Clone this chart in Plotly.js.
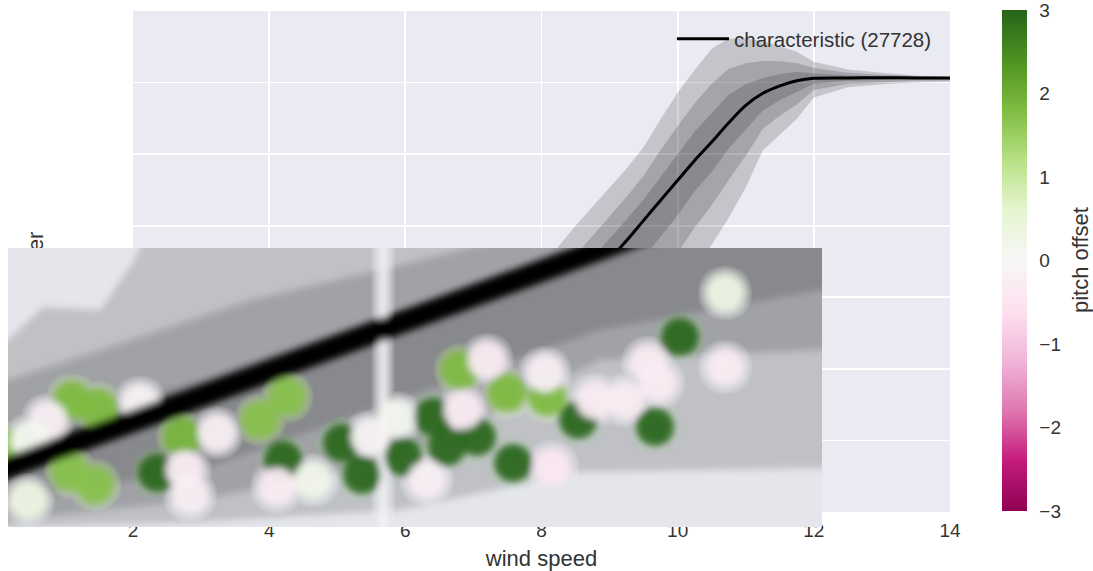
<!DOCTYPE html>
<html>
<head>
<meta charset="utf-8">
<script src="https://cdn.plot.ly/plotly-3.0.1.min.js"></script>
<style>
  html, body { margin: 0; padding: 0; background: #ffffff; }
  #wrap { position: relative; width: 1093px; height: 571px; }
  #main, #inset { position: absolute; left: 0; top: 0; width: 1093px; height: 571px; }
  #inset { pointer-events: none; }
  #inset .cartesianlayer .overplot > g { filter: url(#insetBlur); }
</style>
</head>
<body>
<svg width="0" height="0" style="position:absolute;left:0;top:0">
  <defs>
    <filter id="insetBlur" x="-5%" y="-5%" width="110%" height="110%">
      <feGaussianBlur stdDeviation="3.6"/>
    </filter>
  </defs>
</svg>
<div id="wrap"><div id="main"></div><div id="inset"></div></div>
<script>
// ---------------- main chart data ----------------
const windSpeed = [2, 3, 4, 5, 6, 7, 7.5, 8, 8.5, 9, 9.25, 9.5, 9.75, 10, 10.25, 10.5, 10.75, 11, 11.25, 11.5, 11.75, 12, 12.5, 13, 13.5, 14];
const characteristic = [0, 0, 20, 75, 180, 350, 470, 620, 800, 1010, 1117, 1230, 1342, 1454, 1565, 1668, 1775, 1872, 1940, 1982, 2010, 2024, 2026, 2027, 2026, 2026];
const outerUpper = [20, 90, 200, 330, 480, 690, 820, 970, 1200, 1410, 1520, 1640, 1797, 1943, 2071, 2189, 2247, 2247, 2233, 2203, 2172, 2116, 2073, 2055, 2040, 2032];
const midUpper   = [12, 56, 132, 233, 366, 561, 687, 827, 1034, 1251, 1362, 1479, 1623, 1757, 1884, 1994, 2077, 2108, 2121, 2119, 2110, 2081, 2055, 2044, 2035, 2030];
const darkUpper  = [6, 27, 74, 151, 270, 452, 575, 720, 913, 1126, 1236, 1347, 1476, 1601, 1727, 1829, 1933, 1990, 2026, 2048, 2059, 2052, 2040, 2035, 2030, 2028];
const darkLower  = [0, 0, 15, 58, 141, 275, 371, 494, 644, 821, 920, 1022, 1138, 1258, 1392, 1500, 1632, 1740, 1842, 1901, 1946, 1993, 2010, 2016, 2018, 2019];
const midLower   = [0, 0, 11, 41, 99, 195, 265, 360, 478, 619, 710, 806, 924, 1049, 1190, 1314, 1455, 1591, 1741, 1814, 1878, 1958, 1994, 2004, 2010, 2012];
const outerLower = [0, 0, 5, 20, 50, 100, 140, 200, 280, 380, 460, 550, 670, 800, 952, 1093, 1244, 1414, 1620, 1711, 1797, 1917, 1974, 1990, 2000, 2004];
const xTicks = [2, 4, 6, 8, 10, 12, 14];
const legendLabel = 'characteristic (27728)';

// ---------------- inset (zoomed view) data ----------------
const insetLineWs = [2.9, 3.2, 3.4, 3.6, 3.8, 4.0];
const insetLinePower = [16, 57.7, 85.4, 113, 140.7, 168];
const insetGridWs = [3.5, 3.5];
const insetGridPower = [-20, 160];
const insOuterUpWs = [2.9, 3.0, 3.047, 3.123, 3.167, 3.19, 3.3, 4.2];
const insOuterUpP  = [90, 93.5, 110, 108.5, 132.5, 150, 170, 250];
const insMidUpWs = [2.9, 3.0, 3.123, 3.323, 3.523, 3.656, 3.8, 4.2];
const insMidUpP  = [68, 73.5, 88.5, 113.5, 131, 143.5, 160, 200];
const insDarkUpWs = [2.9, 3.0, 3.256, 3.523, 3.789, 4.2];
const insDarkUpP  = [40, 46, 73.5, 108.5, 138.5, 190];
const insDarkLoWs = [2.9, 3.0, 3.256, 3.523, 3.789, 4.0853, 4.2];
const insDarkLoP  = [8, 13.5, 28.5, 63.5, 98.5, 118.5, 122];
const insMidLoWs = [2.9, 3.0, 3.256, 3.523, 3.789, 4.0853, 4.2];
const insMidLoP  = [0, 3.5, 13.5, 33.5, 83.5, 88.5, 89];
const insOuterLoWs = [2.9, 3.0, 3.256, 3.523, 3.76, 4.0853, 4.2];
const insOuterLoP  = [-5, 0, 2.5, 8.5, 27.5, 29.5, 30];

const pitchWs = [3.0853, 3.12, 3.0827, 3.116, 3.0267, 3.0053, 3.0533, 3.0293, 3.176, 3.232, 3.1987, 3.236, 3.2427, 3.2787, 3.336, 3.372, 3.3667, 3.3587, 3.4453, 3.472, 3.5267, 3.4827, 3.5187, 3.5667, 3.5853, 3.6253, 3.6733, 3.6027, 3.6653, 3.7187, 3.6387, 3.6067, 3.5587, 3.4067, 3.76, 3.7827, 3.8227, 3.8533, 3.8667, 3.7253, 3.716, 3.8627, 3.896, 3.956, 3.956];
const pitchPower = [63.5, 59.5, 27.5, 21, 13.5, 39.5, 53.5, 43.5, 62, 45, 27, 28.5, 16, 47, 53.5, 65, 33.5, 20, 42, 26, 35, 45, 54.5, 55, 40, 45, 32, 78.5, 67, 65, 83.5, 58.5, 23.5, 23.5, 53.5, 63.5, 63.5, 82, 72, 30, 77, 50, 95, 117, 80];
const pitchOffset = [1.8, 1.8, 1.7, 1.7, 0.3, 1.6, -0.2, 0.1, -0.1, 1.9, 2.95, -0.3, -0.2, -0.2, 1.7, 1.7, 2.95, -0.3, 2.95, 2.95, 2.95, -0.1, 0.1, 2.95, 2.95, 2.95, 2.95, 1.8, 1.8, 1.8, -0.3, -0.3, -0.2, 0.2, 2.95, -0.3, -0.3, -0.3, -0.3, -0.4, -0.2, 2.95, 2.95, 0.3, -0.3];
const colorTicks = [-3, -2, -1, 0, 1, 2, 3];
const colorTitle = 'pitch offset';

const PiYG = [
  [0.0, '#8e0152'], [0.1, '#c51b7d'], [0.2, '#de77ae'], [0.3, '#f1b6da'], [0.4, '#fde0ef'],
  [0.5, '#f7f7f7'], [0.6, '#e6f5d0'], [0.7, '#b8e186'], [0.8, '#7fbc41'], [0.9, '#4d9221'], [1.0, '#276419']
];

const FONT = 'Liberation Sans, Arial, Helvetica, sans-serif';
const TXT = '#333333';
const BAND = 'rgba(0,0,0,0.16)';

// ---------------- main figure ----------------
function band(lower, upper) {
  return [
    {x: windSpeed, y: lower, type: 'scatter', mode: 'lines', line: {width: 0, color: BAND}, showlegend: false, hoverinfo: 'skip'},
    {x: windSpeed, y: upper, type: 'scatter', mode: 'lines', line: {width: 0, color: BAND}, fill: 'tonexty', fillcolor: BAND, showlegend: false, hoverinfo: 'skip'}
  ];
}
const mainTraces = [].concat(
  band(outerLower, outerUpper),
  band(midLower, midUpper),
  band(darkLower, darkUpper),
  [{x: windSpeed, y: characteristic, type: 'scatter', mode: 'lines', name: legendLabel,
    line: {color: '#000000', width: 3, shape: 'spline', smoothing: 0.8}}]
);
const mainLayout = {
  width: 1093, height: 571,
  margin: {l: 133, r: 143, t: 11, b: 59},
  paper_bgcolor: '#ffffff', plot_bgcolor: '#eaeaf2',
  font: {family: FONT, color: TXT, size: 19},
  showlegend: true,
  legend: {x: 0.6597, xanchor: 'left', y: 0.984, yanchor: 'top', bgcolor: 'rgba(0,0,0,0)',
           font: {size: 20.5, color: TXT}, itemwidth: 52},
  xaxis: {range: [2, 14], tickvals: xTicks, ticks: '', showline: false, zeroline: false,
          gridcolor: '#ffffff', gridwidth: 1.8, tickfont: {size: 19, color: TXT}, ticklabelstandoff: 5,
          title: {text: 'wind speed', font: {size: 22, color: TXT}, standoff: 12}},
  yaxis: {range: [-400, 2400], dtick: 400, showticklabels: false, ticks: '', showline: false, zeroline: false,
          gridcolor: '#ffffff', gridwidth: 1.8,
          title: {text: 'power', font: {size: 22, color: TXT}, standoff: 82}}
};
Plotly.newPlot('main', mainTraces, mainLayout, {staticPlot: true});

// ---------------- inset figure ----------------
function iband(xl, yl, xu, yu) {
  return [
    {x: xl, y: yl, type: 'scatter', mode: 'lines', line: {width: 0, color: BAND}, showlegend: false, hoverinfo: 'skip'},
    {x: xu, y: yu, type: 'scatter', mode: 'lines', line: {width: 0, color: BAND}, fill: 'tonexty', fillcolor: BAND, showlegend: false, hoverinfo: 'skip'}
  ];
}
const insetTraces = [].concat(
  iband(insOuterLoWs, insOuterLoP, insOuterUpWs, insOuterUpP),
  iband(insMidLoWs, insMidLoP, insMidUpWs, insMidUpP),
  iband(insDarkLoWs, insDarkLoP, insDarkUpWs, insDarkUpP),
  [{x: insetGridWs, y: insetGridPower, type: 'scatter', mode: 'lines', showlegend: false, hoverinfo: 'skip',
    line: {color: '#f7f7f9', width: 7}},
   {x: pitchWs, y: pitchPower, type: 'scatter', mode: 'markers', showlegend: false, name: colorTitle,
    marker: {size: 38, color: pitchOffset, colorscale: PiYG, cmin: -3, cmax: 3, opacity: 0.95, line: {width: 0},
      showscale: true,
      colorbar: {x: 0.9168, xanchor: 'left', xpad: 0, y: 0.9825, yanchor: 'top', ypad: 0,
                 len: 0.8774, lenmode: 'fraction', thickness: 25, outlinewidth: 0,
                 tickvals: colorTicks, ticks: 'outside', ticklen: 9, tickcolor: 'rgba(0,0,0,0)',
                 ticklabeloverflow: 'allow',
                 tickfont: {size: 19, color: TXT, family: FONT},
                 title: {text: ''}}}},
   {x: insetLineWs, y: insetLinePower, type: 'scatter', mode: 'lines', showlegend: false,
    line: {color: '#000000', width: 22}}]
);
const insetLayout = {
  width: 1093, height: 571,
  margin: {l: 0, r: 0, t: 0, b: 0},
  paper_bgcolor: 'rgba(0,0,0,0)', plot_bgcolor: '#e4e6eb',
  font: {family: FONT, color: TXT},
  showlegend: false,
  xaxis: {domain: [0.00732, 0.7521], range: [3, 4.0853], showgrid: false, showticklabels: false, ticks: '',
          zeroline: false, showline: false},
  yaxis: {domain: [0.0771, 0.5657], range: [0, 139.5], showgrid: false, showticklabels: false, ticks: '',
          zeroline: false, showline: false},
  annotations: [{text: colorTitle, xref: 'paper', yref: 'paper', x: 0.9881, y: 0.5446,
                 xanchor: 'center', yanchor: 'middle', textangle: -90, showarrow: false,
                 font: {size: 22, color: TXT, family: FONT}}]
};
Plotly.newPlot('inset', insetTraces, insetLayout, {staticPlot: true});
</script>
</body>
</html>
